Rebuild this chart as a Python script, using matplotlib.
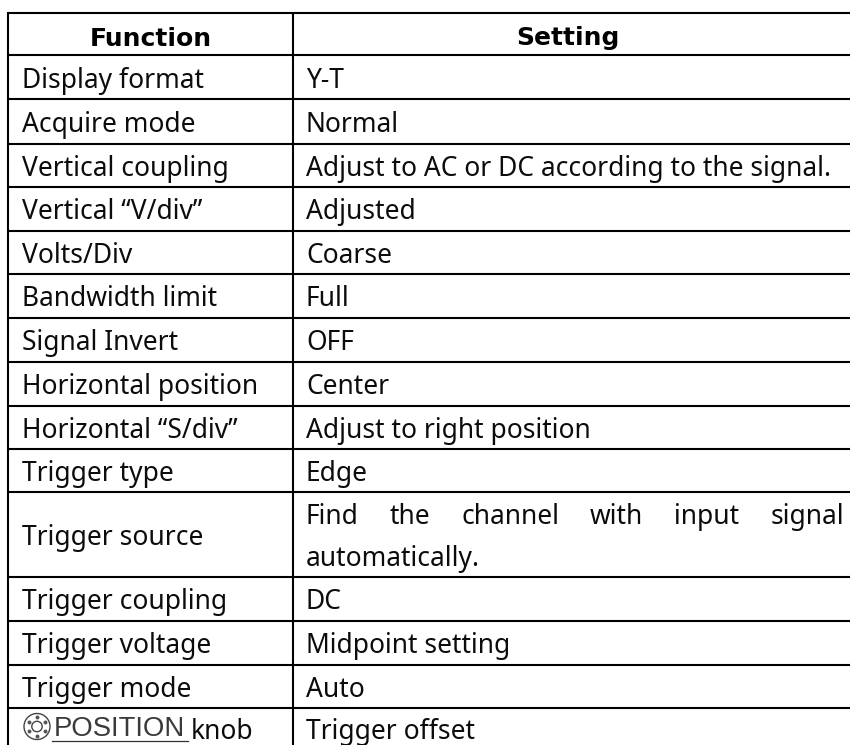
import matplotlib
matplotlib.use("Agg")
import matplotlib.pyplot as plt
from matplotlib.patches import Circle
import numpy as np

functions = ["Display format", "Acquire mode", "Vertical coupling", "Vertical \u201cV/div\u201d",
             "Volts/Div", "Bandwidth limit", "Signal Invert", "Horizontal position",
             "Horizontal \u201cS/div\u201d", "Trigger type", "Trigger source",
             "Trigger coupling", "Trigger voltage", "Trigger mode"]
settings = ["Y-T", "Normal", "Adjust to AC or DC according to the signal.", "Adjusted",
            "Coarse", "Full", "OFF", "Center", "Adjust to right position", "Edge", None,
            "DC", "Midpoint setting", "Auto"]
justified_words = ["Find", "the", "channel", "with", "input", "signal"]
wrapped_line = "automatically."
headers = ["Function", "Setting"]
last_function = "knob"
last_setting = "Trigger offset"
knob_label = "POSITION"
row_lines = [12.7, 55.3, 99.3, 143.5, 187, 230.5, 274, 318, 362, 405.5, 449, 491.7, 577.3, 621, 665, 707.7]
col_lines = [8, 293]
FONT = "Noto Sans"
FS = 19.0
INK = "#0c0c0c"

fig = plt.figure(figsize=(8.5, 7.45), dpi=100)
ax = fig.add_axes([0, 0, 1, 1])
ax.set_xlim(0, 850); ax.set_ylim(745, 0); ax.axis("off")

LW = 1.5
ax.hlines(row_lines, col_lines[0] - 1, 850, color="black", lw=LW)
ax.vlines(col_lines, row_lines[0] - 1, 745, color="black", lw=LW)

ax.text(150.5, 45.5, headers[0], ha="center", va="baseline",
        family="DejaVu Sans", weight="bold", fontsize=18, color="black")
ax.text(568, 45.5, headers[1], ha="center", va="baseline",
        family="DejaVu Sans", weight="bold", fontsize=18, color="black")

xl = 22; xr = 306
for i, (f, s) in enumerate(zip(functions, settings)):
    y0, y1 = row_lines[i + 1], row_lines[i + 2]
    yb = (y0 + y1) / 2 + 10.3
    ax.text(xl, yb, f, ha="left", va="baseline", family=FONT, fontsize=FS, color=INK)
    if s is not None:
        ax.text(xr, yb, s, ha="left", va="baseline", family=FONT, fontsize=FS, color=INK)

# justified two-line cell
renderer = fig.canvas.get_renderer()
y_l1, y_l2 = 524, 565.7
arts = [ax.text(0, y_l1, w, ha="left", va="baseline", family=FONT, fontsize=FS, color=INK)
        for w in justified_words]
ws = [a.get_window_extent(renderer).width for a in arts]
gap = (844 - xr - sum(ws)) / (len(ws) - 1)
x = xr
for a, w in zip(arts, ws):
    a.set_x(x); x += w + gap
ax.text(xr, y_l2, wrapped_line, ha="left", va="baseline", family=FONT, fontsize=FS, color=INK)

# last row
yb = 739
ax.text(xr, yb, last_setting, ha="left", va="baseline", family=FONT, fontsize=FS, color=INK)
ax.text(191, yb, last_function, ha="left", va="baseline", family=FONT, fontsize=FS, color=INK)
ax.text(54, 735.5, knob_label, ha="left", va="baseline", family="Liberation Sans", fontsize=19.8, color="#3a3a3a")
ax.plot([52, 188], [740.5, 740.5], color="#333333", lw=0.9)
cx, cy = 37, 726.5
ax.add_patch(Circle((cx, cy), 13, fill=False, ec="#444444", lw=1.0))
ax.add_patch(Circle((cx, cy), 5.2, fill=False, ec="#444444", lw=1.0))
ang = np.deg2rad(np.arange(0, 360, 60) + 30)
ax.scatter(cx + 9.2 * np.cos(ang), cy + 9.2 * np.sin(ang), s=8, color="#555555", linewidths=0)

fig.savefig("out.png", dpi=100)
